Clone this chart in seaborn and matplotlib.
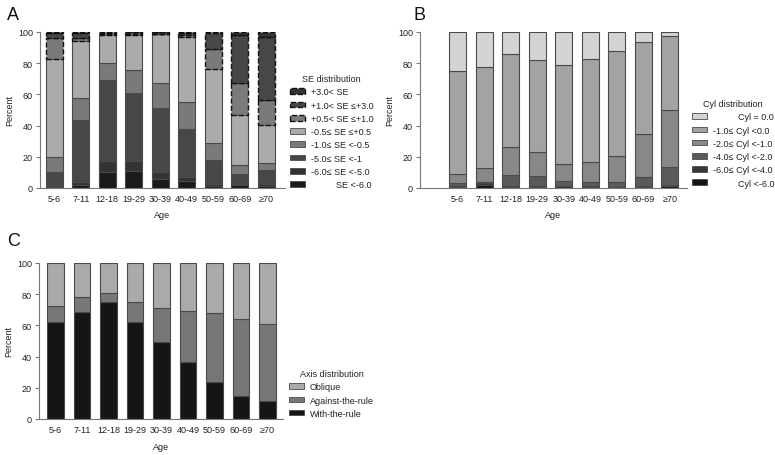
import matplotlib
matplotlib.use("Agg")
import matplotlib.pyplot as plt
from matplotlib.patches import Patch
import seaborn as sns
import pandas as pd
import numpy as np

ages = ["5-6", "7-11", "12-18", "19-29", "30-39", "40-49", "50-59", "60-69", "\u226570"]

# Panel A: SE distribution (bottom to top)
se_labels = ["SE <-6.0", "-6.0\u2264 SE <-5.0", "-5.0\u2264 SE <-1", "-1.0\u2264 SE <-0.5",
             "-0.5\u2264 SE \u2264+0.5", "+0.5< SE \u2264+1.0", "+1.0< SE \u2264+3.0", "+3.0< SE"]
se_lt_m6 = [0.0, 2.0, 10.0, 11.0, 6.0, 4.5, 1.0, 2.0, 1.5]
se_m6_m5 = [0.5, 2.0, 7.0, 6.0, 4.0, 2.5, 1.5, 0.5, 1.0]
se_m5_m1 = [9.5, 39.5, 52.0, 44.0, 41.5, 31.0, 15.5, 6.5, 9.0]
se_m1_m05 = [10.0, 14.5, 11.0, 14.5, 16.0, 17.0, 11.0, 6.0, 4.5]
se_neutral = [63.0, 36.0, 18.0, 22.5, 31.0, 41.5, 47.0, 32.0, 24.5]
se_p05_p1 = [13.0, 2.0, 0.5, 0.5, 0.5, 1.3, 13.0, 20.0, 16.0]
se_p1_p3 = [3.5, 3.5, 1.0, 1.5, 0.7, 1.7, 10.5, 31.0, 40.0]
se_gt_p3 = [0.5, 0.5, 0.5, 0.5, 0.3, 0.5, 0.5, 2.0, 3.5]

# Panel B: Cyl distribution (bottom to top)
cyl_labels = ["Cyl <-6.0", "-6.0\u2264 Cyl <-4.0", "-4.0\u2264 Cyl <-2.0",
              "-2.0\u2264 Cyl <-1.0", "-1.0\u2264 Cyl <0.0", "Cyl = 0.0"]
cyl_lt_m6 = [0.5, 2.0, 0.5, 0.5, 0.3, 0.5, 0.3, 0.5, 1.0]
cyl_m6_m4 = [1.0, 1.0, 1.0, 1.0, 1.0, 1.0, 0.5, 1.0, 1.0]
cyl_m4_m2 = [1.5, 1.0, 7.0, 6.0, 3.3, 2.5, 3.0, 5.5, 11.5]
cyl_m2_m1 = [6.0, 9.0, 18.0, 15.5, 11.0, 12.5, 16.5, 27.5, 36.5]
cyl_m1_0 = [66.0, 64.5, 59.5, 59.0, 63.4, 66.5, 67.5, 59.0, 47.5]
cyl_zero = [25.0, 22.5, 14.0, 18.0, 21.0, 17.0, 12.2, 6.5, 2.5]

# Panel C: Axis distribution (bottom to top)
axis_labels = ["With-the-rule", "Against-the-rule", "Oblique"]
axis_wtr = [62.0, 68.8, 75.2, 62.0, 49.4, 36.3, 23.5, 14.7, 11.8]
axis_atr = [10.2, 9.4, 5.6, 12.8, 21.8, 32.7, 44.7, 49.2, 48.9]
axis_obl = [27.8, 21.8, 19.2, 25.2, 28.8, 31.0, 31.8, 36.1, 39.3]

sns.set_style("ticks")
plt.rcParams["font.family"] = ["Liberation Sans", "DejaVu Sans"]
plt.rcParams["font.size"] = 6.5

fig = plt.figure(figsize=(7.75, 4.56), dpi=100)
axA = fig.add_axes([40 / 775, 1 - 189 / 456, 245 / 775, 156 / 456])
axB = fig.add_axes([420 / 775, 1 - 189 / 456, 267 / 775, 156 / 456])
axC = fig.add_axes([39 / 775, 1 - 420 / 456, 244 / 775, 156 / 456])

EDGE = "#4a4a4a"
FS = 6.5


def stacked(ax, series, colors, dashed):
    bottoms = np.zeros(len(ages))
    for vals, col, dsh in zip(series, colors, dashed):
        n0 = len(ax.patches)
        df = pd.DataFrame({"Age": ages, "val": vals})
        sns.barplot(data=df, x="Age", y="val", order=ages, color=col, saturation=1,
                    width=0.63, errorbar=None, ax=ax,
                    edgecolor="#111111" if dsh else EDGE,
                    linewidth=1.0 if dsh else 0.8,
                    linestyle="--" if dsh else "-")
        for i, p in enumerate(ax.patches[n0:]):
            p.set_y(bottoms[i])
            p.set_zorder(3 if dsh else 2)
        bottoms = bottoms + np.array(vals)


def style(ax, xlim, labelpad):
    ax.set_ylim(0, 100)
    ax.set_xlim(*xlim)
    ax.set_yticks([0, 20, 40, 60, 80, 100])
    ax.set_xlabel("Age", labelpad=labelpad, color="#222222", fontsize=FS)
    ax.set_ylabel("Percent", labelpad=3, color="#222222", fontsize=FS)
    sns.despine(ax=ax)
    for s in ["left", "bottom"]:
        ax.spines[s].set_color("#777777")
        ax.spines[s].set_linewidth(0.8)
    ax.tick_params(axis="y", length=3, width=0.8, color="#777777", pad=2,
                   labelcolor="#222222", labelsize=FS)
    ax.tick_params(axis="x", length=0, pad=4, labelcolor="#222222", labelsize=FS)


def legend(ax, labels, colors, dashed, title, anchor):
    handles = []
    for lab, col, dsh in zip(labels, colors, dashed):
        handles.append(Patch(facecolor=col, edgecolor="#111111" if dsh else EDGE,
                             linestyle="--" if dsh else "-", linewidth=1.0 if dsh else 0.6,
                             label=lab))
    leg = ax.legend(handles=handles[::-1], title=title, loc="upper left",
                    bbox_to_anchor=anchor, frameon=False, fontsize=FS, title_fontsize=FS,
                    handlelength=1.7, handleheight=0.6, handletextpad=0.6,
                    labelspacing=0.47, borderpad=0, borderaxespad=0)
    for t in leg.get_texts():
        t.set_color("#222222")
    leg.get_title().set_color("#222222")


# Panel A
se_series = [se_lt_m6, se_m6_m5, se_m5_m1, se_m1_m05, se_neutral, se_p05_p1, se_p1_p3, se_gt_p3]
se_colors = ["#1a1a1a", "#333333", "#474747", "#7a7a7a", "#ababab", "#7a7a7a", "#474747", "#333333"]
se_dashed = [False, False, False, False, False, True, True, True]
stacked(axA, se_series, se_colors, se_dashed)
style(axA, (-0.54, 8.71), 5)
se_leg_labels = ["          " + se_labels[0]] + se_labels[1:]
legend(axA, se_leg_labels, se_colors, se_dashed, "SE distribution", (1.02, 0.73))

# Panel B
cyl_series = [cyl_lt_m6, cyl_m6_m4, cyl_m4_m2, cyl_m2_m1, cyl_m1_0, cyl_zero]
cyl_colors = ["#141414", "#383838", "#5a5a5a", "#888888", "#a3a3a3", "#d4d4d4"]
cyl_dashed = [False] * 6
stacked(axB, cyl_series, cyl_colors, cyl_dashed)
style(axB, (-1.42, 8.65), 5)
cyl_leg_labels = ["          " + cyl_labels[0]] + cyl_labels[1:5] + ["          " + cyl_labels[5]]
legend(axB, cyl_leg_labels, cyl_colors, cyl_dashed, "Cyl distribution", (1.019, 0.57))

# Panel C
axis_series = [axis_wtr, axis_atr, axis_obl]
axis_colors = ["#151515", "#777777", "#aaaaaa"]
axis_dashed = [False] * 3
stacked(axC, axis_series, axis_colors, axis_dashed)
style(axC, (-0.62, 8.59), 6)
legend(axC, axis_labels, axis_colors, axis_dashed, "Axis distribution", (1.025, 0.32))

for letter, x, y in [("A", 7, 20), ("B", 413, 20), ("C", 7, 246)]:
    fig.text(x / 775, 1 - y / 456, letter, fontsize=13, color="#111111", ha="left", va="baseline")

fig.savefig("out.png", dpi=100)
